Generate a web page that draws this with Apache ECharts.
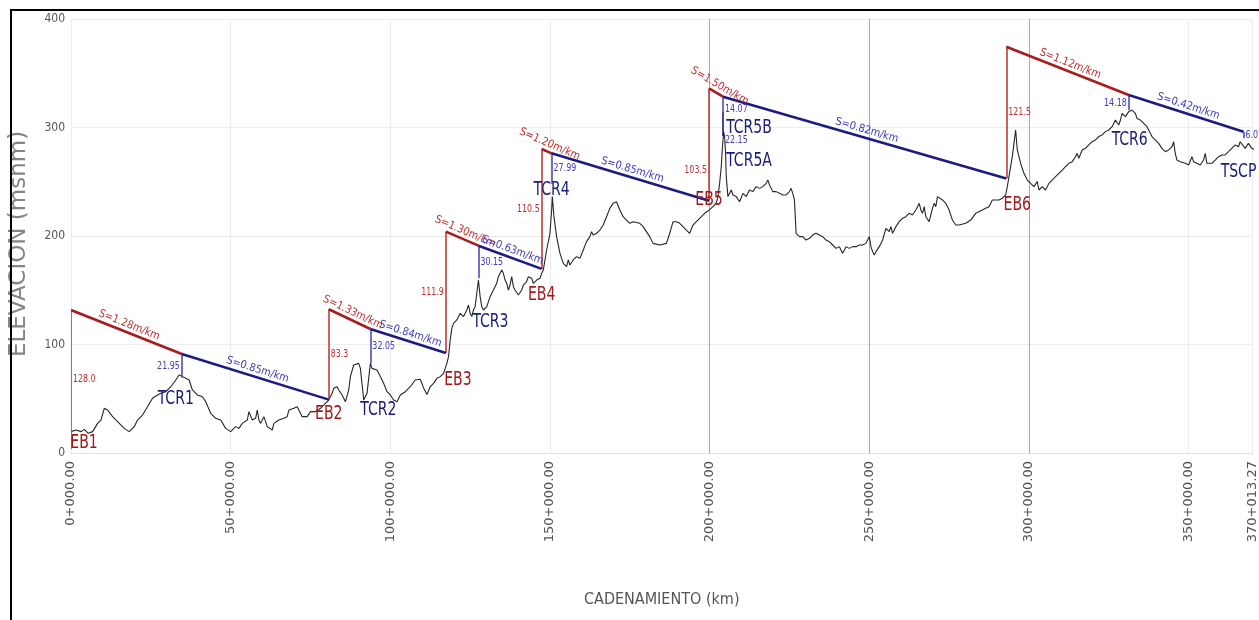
<!DOCTYPE html>
<html>
<head>
<meta charset="utf-8">
<script src="https://cdn.jsdelivr.net/npm/echarts@6/dist/echarts.min.js"></script>
<style>
  html, body { margin: 0; padding: 0; background: #fff; }
  #chart { width: 1259px; height: 620px; }
</style>
</head>
<body>
<div id="chart"></div>
<script>
// Ground profile along the route: [chainage (km), elevation (m a.s.l.)]
const groundProfile = [
  [0, 19.7], [1.56, 21.2], [3.13, 19.7], [4.17, 21.8], [5.42, 18.1], [6.77, 19.7], [8.33, 27.3], [9.38, 30.4],
  [10.42, 41.2], [11.46, 39.6], [13.02, 33.5], [14.58, 28.9], [16.67, 22.7], [18.23, 19.7], [19.79, 24.3],
  [20.83, 30.4], [22.40, 35.0], [23.96, 42.7], [25.52, 50.4], [27.08, 53.5], [28.13, 55.0], [29.69, 56.5],
  [31.25, 61.1], [32.81, 67.3], [33.85, 71.9], [34.90, 70.4], [35.94, 68.8], [36.98, 67.3], [38.02, 58.1],
  [39.58, 53.5], [41.15, 51.9], [42.19, 47.3], [43.75, 36.6], [45.31, 32.0], [46.88, 30.4], [48.44, 22.7],
  [50.00, 19.7], [51.56, 24.3], [52.60, 22.7], [53.65, 27.3], [55.21, 30.4], [55.73, 38.1], [56.77, 30.4],
  [57.81, 32.0], [58.33, 39.6], [58.85, 30.4], [59.38, 27.3], [60.42, 33.5], [61.46, 24.3], [63.02, 21.2],
  [63.54, 27.3], [65.10, 30.4], [66.67, 32.0], [67.71, 33.5], [68.23, 39.6], [69.79, 41.2], [70.83, 42.7],
  [71.35, 39.6], [72.40, 33.5], [73.96, 33.5], [75.00, 38.1], [76.56, 38.1], [78.13, 41.2], [79.69, 45.8],
  [80.73, 48.8], [81.77, 55.0], [82.29, 59.6], [83.33, 61.1], [83.85, 58.1], [84.90, 53.5], [85.94, 47.3],
  [86.46, 48.8], [86.98, 58.1], [87.50, 70.4], [88.54, 81.1], [90.10, 82.6], [90.63, 78.0], [91.67, 48.8],
  [92.71, 55.0], [93.75, 82.6], [94.27, 78.0], [95.83, 76.5], [96.88, 70.4], [97.92, 64.2], [98.96, 56.5],
  [100.00, 53.5], [101.04, 48.8], [102.08, 47.3], [103.13, 53.5], [104.69, 56.5], [106.25, 61.1],
  [107.81, 67.3], [109.38, 68.0], [110.42, 60.0], [111.46, 54.0], [112.50, 61.1], [113.54, 64.2],
  [114.58, 68.8], [115.63, 70.4], [116.67, 73.4], [117.71, 82.6], [118.23, 88.8], [118.75, 104.1],
  [119.27, 114.9], [119.79, 119.5], [120.83, 122.6], [121.88, 128.7], [122.92, 125.7], [123.96, 131.8],
  [124.48, 136.4], [125.00, 128.7], [125.52, 125.7], [126.04, 131.8], [126.56, 134.9], [127.08, 147.2],
  [127.60, 159.4], [128.13, 144.1], [128.65, 134.9], [129.17, 131.8], [130.21, 134.9], [131.25, 144.1],
  [132.29, 150.2], [133.33, 156.4], [133.85, 162.5], [134.90, 168.7], [135.42, 165.6], [135.94, 159.4],
  [136.46, 156.4], [136.98, 150.2], [137.50, 154.8], [138.02, 162.5], [138.54, 153.3], [139.06, 150.2],
  [140.10, 145.6], [141.15, 150.2], [141.67, 154.8], [142.71, 157.9], [143.23, 162.5], [144.27, 161.0],
  [144.79, 156.4], [145.83, 159.4], [146.88, 161.0], [147.40, 165.6], [147.92, 168.7], [148.96, 187.1],
  [150.00, 202.5], [150.52, 224.0], [150.73, 236.3], [151.25, 217.8], [152.08, 199.4], [153.13, 184.0],
  [154.17, 174.8], [155.21, 171.7], [155.73, 177.9], [156.25, 173.3], [157.29, 177.9], [158.33, 181.0],
  [159.38, 179.4], [160.42, 187.1], [161.46, 194.8], [162.50, 199.4], [163.02, 204.0], [163.54, 200.9],
  [164.58, 202.5], [165.63, 205.5], [166.67, 210.1], [167.71, 217.8], [168.75, 225.5], [169.79, 230.1],
  [170.83, 231.6], [171.88, 224.0], [172.92, 217.8], [173.96, 214.7], [175.00, 211.7], [176.04, 213.2],
  [178.13, 211.7], [179.17, 208.6], [180.21, 204.0], [181.25, 199.4], [182.29, 193.2], [184.38, 191.7],
  [186.46, 193.2], [187.50, 202.5], [188.54, 213.2], [189.58, 213.2], [190.63, 211.7], [191.67, 208.6],
  [192.71, 205.5], [193.75, 202.5], [194.79, 210.1], [195.83, 213.2], [196.88, 216.3], [198.44, 220.9],
  [199.48, 223.0], [200.00, 224.0], [201.04, 227.0], [202.08, 230.1], [202.60, 236.3], [203.13, 248.5],
  [203.65, 263.9], [203.96, 279.3], [204.38, 296.2], [204.69, 291.6], [205.00, 276.2], [205.21, 254.7],
  [205.73, 236.3], [206.77, 242.4], [207.29, 237.8], [208.33, 236.3], [209.38, 231.6], [210.42, 239.3],
  [211.46, 236.3], [212.50, 242.4], [213.54, 240.9], [214.58, 245.5], [215.63, 243.9], [216.67, 245.5],
  [217.71, 248.5], [218.23, 251.6], [218.75, 247.0], [219.79, 240.9], [220.83, 240.9], [221.88, 239.3],
  [222.92, 237.8], [223.96, 237.8], [225.00, 240.9], [225.52, 243.9], [226.04, 239.3], [226.56, 233.2],
  [227.08, 202.5], [228.13, 199.4], [229.17, 199.4], [230.21, 196.3], [231.25, 197.9], [232.29, 200.9],
  [233.33, 202.5], [234.38, 200.9], [235.42, 199.4], [236.46, 196.3], [237.50, 194.8], [238.54, 191.7],
  [239.58, 188.6], [240.63, 190.2], [241.67, 184.0], [242.71, 190.2], [243.75, 188.6], [244.79, 190.2],
  [245.83, 190.2], [246.88, 191.7], [247.92, 191.7], [248.96, 193.2], [250.00, 199.4], [250.52, 190.2],
  [251.04, 185.6], [251.56, 182.5], [252.08, 185.6], [253.13, 190.2], [254.17, 196.3], [255.21, 207.1],
  [256.25, 204.0], [256.77, 208.6], [257.29, 202.5], [258.33, 208.6], [259.38, 213.2], [260.42, 216.3],
  [261.46, 217.8], [262.50, 220.9], [263.54, 219.4], [264.58, 224.0], [265.10, 227.0], [265.63, 230.1],
  [266.15, 224.0], [266.67, 220.9], [267.19, 227.0], [267.71, 217.8], [268.75, 213.2], [269.79, 225.5],
  [270.31, 230.1], [270.83, 227.0], [271.35, 236.3], [271.88, 236.3], [272.92, 233.2], [273.96, 230.1],
  [275.00, 224.0], [276.04, 214.7], [277.08, 210.1], [278.13, 210.1], [280.21, 211.7], [281.77, 214.7],
  [283.33, 220.9], [285.42, 224.0], [286.46, 225.5], [287.50, 227.0], [288.54, 233.2], [290.63, 233.2],
  [291.67, 234.7], [292.71, 237.8], [293.23, 245.5], [293.75, 254.7], [294.79, 273.1], [295.31, 285.4],
  [295.83, 297.7], [296.35, 279.3], [297.40, 267.0], [298.44, 257.8], [299.48, 251.6], [300.52, 248.5],
  [301.56, 245.5], [302.60, 250.1], [303.13, 242.4], [304.17, 245.5], [305.21, 242.4], [306.25, 248.5],
  [307.29, 251.6], [308.33, 254.7], [309.38, 257.8], [310.42, 260.8], [311.46, 263.9], [312.50, 267.0],
  [313.54, 268.5], [314.58, 273.1], [315.10, 276.2], [315.63, 271.6], [316.67, 279.3], [317.71, 280.8],
  [318.75, 283.9], [319.79, 286.9], [320.83, 288.5], [321.88, 291.6], [322.92, 293.1], [323.96, 296.2],
  [325.00, 297.7], [326.04, 300.8], [327.08, 306.9], [327.60, 308.4], [328.13, 302.3], [328.65, 306.9],
  [329.17, 313.1], [329.69, 314.6], [330.21, 310.0], [331.25, 314.6], [332.29, 316.1], [333.33, 313.1],
  [333.85, 308.4], [334.90, 306.9], [335.94, 303.8], [336.98, 300.8], [338.02, 294.6], [338.54, 291.6],
  [339.58, 288.5], [340.63, 285.4], [341.67, 280.8], [342.71, 277.7], [343.75, 279.3], [344.79, 282.3],
  [345.31, 286.9], [345.83, 276.2], [346.35, 270.0], [347.40, 268.5], [348.96, 267.0], [350.00, 265.4],
  [351.04, 273.1], [351.56, 268.5], [352.60, 267.0], [353.65, 265.4], [354.69, 270.0], [355.21, 276.2],
  [355.73, 267.0], [357.29, 267.0], [358.33, 270.0], [359.38, 273.1], [360.42, 274.7], [361.46, 274.7],
  [362.50, 277.7], [363.54, 280.8], [364.58, 283.9], [365.63, 282.3], [366.15, 286.9], [366.67, 288.5],
  [367.71, 280.8], [368.75, 285.4], [369.79, 280.8], [370.83, 279.3]
];

// Pumping stations: chainage, hydraulic grade leaving the station, pumping head
const pumpNames = ['EB1', 'EB2', 'EB3', 'EB4', 'EB5', 'EB6'];
const pumpKm = [0, 80.73, 117.4, 147.4, 199.8, 292.9];
const pumpGrade = [131.8, 132.5, 204.0, 280.2, 336.0, 374.5];
const pumpHead = [128.0, 83.3, 111.9, 110.5, 103.5, 121.5];

// Break-pressure tanks and the terminal tank: chainage, grade on arrival, head dissipated
const tankNames = ['TCR1', 'TCR2', 'TCR3', 'TCR4', 'TCR5B', 'TCR6', 'TSCP'];
const tankKm = [34.69, 93.75, 127.6, 150.5, 204.2, 331.25, 367.2];
const tankGrade = [91.2, 114.3, 191.1, 276.2, 328.4, 330.0, 296.1];
const tankDrop = [21.95, 32.05, 30.15, 27.99, 14.07, 14.18, 6.07];

// Second tank stacked under TCR5B
const tcr5aName = 'TCR5A';
const tcr5aDrop = 22.15;

// Hydraulic gradients: pumped reaches (station -> tank) and gravity reaches (tank -> next station)
const pumpSlopes = ['S=1.28m/km', 'S=1.33m/km', 'S=1.30m/km', 'S=1.20m/km', 'S=1.50m/km', 'S=1.12m/km'];
const gravitySlopes = ['S=0.85m/km', 'S=0.84m/km', 'S=0.63m/km', 'S=0.85m/km', 'S=0.82m/km', 'S=0.42m/km'];

// Axis extents and ticks
const kmMax = 370.01327;
const kmStep = 50;
const elevMax = 400;
const elevStep = 100;

// ---------------------------------------------------------------- styles
const COND = '"DejaVu Sans Condensed", "DejaVu Sans", sans-serif';
const RED_LINE = '#a81c1c', RED_RISER = '#c23a3a', RED_TEXT = '#c02f2f', RED_NAME = '#a31717';
const BLUE_LINE = '#1b1b82', BLUE_RISER = '#4d4dc0', BLUE_TEXT = '#3c3cbc', BLUE_NAME = '#1b1b7c';

// pixel offsets of the station names from the foot of each riser
const pumpNameOffset = [[13, -6], [0, 14], [12, 27], [0, 26], [0, -1], [11, 26]];
const tankNameOffset = [[-6, 21], [8, 46], [12, 43], [0, 6], [26, 16], [1, 29], [-5, 33]];
const tcr5aNameOffset = [26, 25];
// side of the riser where the head value sits, and small vertical nudges
const pumpValueSide = ['right', 'right', 'left', 'left', 'left', 'right'];
const pumpValueNudge = [0, 0, 0, 0, 26, 0];
const tankValueSide = ['left', 'right', 'right', 'right', 'right', 'left', 'right'];
const tankValueNudge = [0, 0, 0, 0, 5, 0, 0];

// ---------------------------------------------------------------- geometry built from the data
const segs = [];
const texts = [];

function seg(a, b, style, name, labelColor) {
  const item = { coords: [a, b], lineStyle: Object.assign({ opacity: 1 }, style) };
  if (name) {
    item.name = name;
    item.label = {
      show: true, position: 'insideMiddleTop', formatter: '{b}', distance: 2,
      color: labelColor, fontSize: 11, fontFamily: COND, opacity: 1
    };
  }
  segs.push(item);
}

function valueText(txt, km, elev, side, nudge, color) {
  texts.push({
    text: txt, km: km, elev: elev, dx: side === 'right' ? 2 : -2, dy: nudge,
    align: side === 'right' ? 'left' : 'right', color: color, size: 11, sx: 0.8
  });
}

function nameText(txt, km, elev, off, color) {
  texts.push({
    text: txt, km: km, elev: elev, dx: off[0], dy: off[1],
    align: 'center', color: color, size: 20, sx: 0.78
  });
}

const riserRed = { color: RED_RISER, width: 1.6 };
const gradeRed = { color: RED_LINE, width: 2.6 };
const riserBlue = { color: BLUE_RISER, width: 1.6 };
const gradeBlue = { color: BLUE_LINE, width: 2.6 };

pumpKm.forEach((k, i) => {
  const foot = pumpGrade[i] - pumpHead[i];
  seg([k, foot], [k, pumpGrade[i]], riserRed);
  seg([k, pumpGrade[i]], [tankKm[i], tankGrade[i]], gradeRed, pumpSlopes[i], RED_TEXT);
  valueText(pumpHead[i].toFixed(1), k, (foot + pumpGrade[i]) / 2, pumpValueSide[i], pumpValueNudge[i], RED_TEXT);
  nameText(pumpNames[i], k, foot, pumpNameOffset[i], RED_NAME);
});

tankKm.forEach((k, i) => {
  const foot = tankGrade[i] - tankDrop[i];
  seg([k, tankGrade[i]], [k, foot], riserBlue);
  valueText(tankDrop[i].toFixed(2), k, (foot + tankGrade[i]) / 2, tankValueSide[i], tankValueNudge[i], BLUE_TEXT);
  nameText(tankNames[i], k, foot, tankNameOffset[i], BLUE_NAME);
  // gravity reach towards the next pumping station, or the terminal tank after the last one
  let dest = null;
  if (i + 1 < pumpKm.length) dest = [pumpKm[i + 1], pumpGrade[i + 1] - pumpHead[i + 1]];
  else if (i + 1 < tankKm.length) dest = [tankKm[i + 1], tankGrade[i + 1]];
  if (dest) seg([k, tankGrade[i]], dest, gradeBlue, gravitySlopes[i], BLUE_TEXT);
});

// TCR5A hangs below TCR5B
{
  const i = tankNames.indexOf('TCR5B');
  const top = tankGrade[i] - tankDrop[i];
  const foot = top - tcr5aDrop;
  seg([tankKm[i], top], [tankKm[i], foot], { color: BLUE_LINE, width: 1.6 });
  valueText(tcr5aDrop.toFixed(2), tankKm[i], (top + foot) / 2, 'right', 16, BLUE_TEXT);
  nameText(tcr5aName, tankKm[i], foot, tcr5aNameOffset, BLUE_NAME);
}

function chainage(v) {
  const km = Math.floor(v + 1e-9);
  const m = ((v - km) * 1000).toFixed(2).padStart(6, '0');
  return km + '+' + m;
}

// ---------------------------------------------------------------- chart
const chart = echarts.init(document.getElementById('chart'), null, { renderer: 'canvas' });

chart.setOption({
  animation: false,
  backgroundColor: '#ffffff',
  grid: { left: 70, right: 5, top: 19, bottom: 167, containLabel: false },
  xAxis: {
    type: 'value', min: 0, max: kmMax, interval: kmStep,
    name: 'CADENAMIENTO (km)', nameLocation: 'middle', nameGap: 139,
    nameTextStyle: { color: '#555', fontSize: 16, fontFamily: COND },
    axisLine: { show: true, lineStyle: { color: '#e2e2e2', width: 1 } },
    axisTick: { show: false },
    axisLabel: {
      rotate: 90, margin: 8, color: '#555', fontSize: 13,
      fontFamily: '"DejaVu Sans", sans-serif',
      formatter: chainage, showMaxLabel: true
    },
    splitLine: {
      show: true,
      lineStyle: {
        width: 1,
        color: ['#ececec', '#ececec', '#ececec', '#ececec', '#a9a9a9', '#a9a9a9', '#a9a9a9', '#ececec', '#ececec']
      }
    }
  },
  yAxis: {
    type: 'value', min: 0, max: elevMax, interval: elevStep,
    name: 'ELEVACION (msnm)', nameLocation: 'middle', nameGap: 40,
    nameTextStyle: { color: '#858585', fontSize: 23, fontFamily: '"DejaVu Sans", sans-serif', padding: [0, 16, 0, 0] },
    axisLine: { show: false },
    axisTick: { show: false },
    axisLabel: { margin: 6, color: '#555', fontSize: 12, fontFamily: COND },
    splitLine: { show: true, lineStyle: { color: '#ececec', width: 1 } }
  },
  series: [
    {
      name: 'Terreno', type: 'line', data: groundProfile, showSymbol: false, symbol: 'none',
      lineStyle: { color: '#262626', width: 1.1 }, z: 2, silent: true
    },
    {
      name: 'Gradiente', type: 'lines', coordinateSystem: 'cartesian2d', polyline: false,
      lineStyle: { opacity: 1 }, data: segs, z: 3, silent: true
    },
    {
      name: 'Etiquetas', type: 'custom', coordinateSystem: 'cartesian2d', z: 5, silent: true,
      data: texts.map(t => [t.km, t.elev]),
      renderItem: function (params, api) {
        const t = texts[params.dataIndex];
        const p = api.coord([api.value(0), api.value(1)]);
        return {
          type: 'text', x: p[0] + t.dx, y: p[1] + t.dy, scaleX: t.sx,
          style: {
            text: t.text, fill: t.color, fontSize: t.size, fontFamily: COND,
            align: t.align, verticalAlign: 'middle'
          }
        };
      }
    }
  ],
  graphic: [{
    type: 'rect', z: 100, silent: true,
    shape: { x: 11, y: 10, width: 1300, height: 700 },
    style: { fill: 'none', stroke: '#000', lineWidth: 2 }
  }]
});
</script>
</body>
</html>
